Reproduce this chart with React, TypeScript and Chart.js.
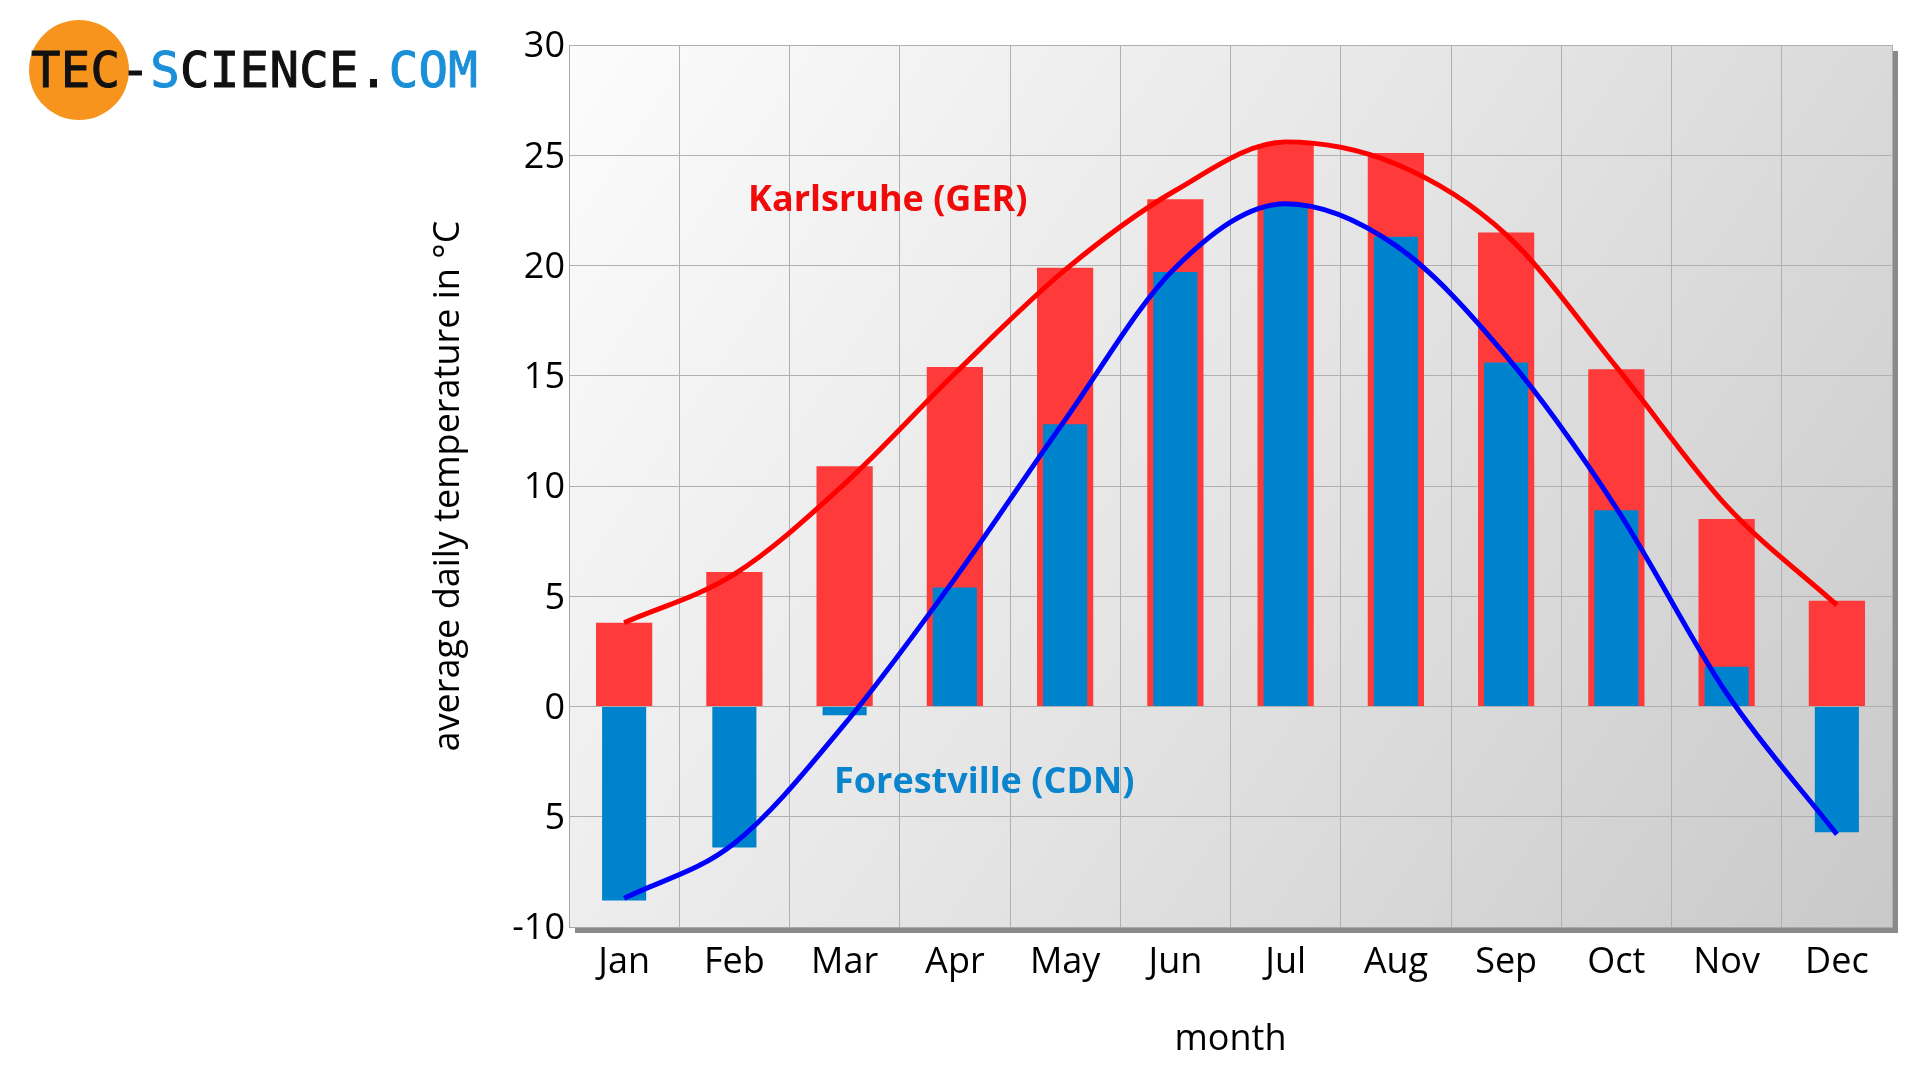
import React, { useEffect, useRef } from "react";
import { Chart, registerables } from "chart.js";

Chart.register(...registerables);

const months = ["Jan", "Feb", "Mar", "Apr", "May", "Jun", "Jul", "Aug", "Sep", "Oct", "Nov", "Dec"];
const karlsruheBars = [3.8, 6.1, 10.9, 15.4, 19.9, 23.0, 25.5, 25.1, 21.5, 15.3, 8.5, 4.8];
const forestvilleBars = [-8.8, -6.4, -0.4, 5.4, 12.8, 19.7, 22.7, 21.3, 15.6, 8.9, 1.8, -5.7];
const karlsruheCurve = [3.8, 6.0, 10.1, 15.1, 19.8, 23.4, 25.6, 24.6, 21.4, 15.4, 9.1, 4.6];
const forestvilleCurve = [-8.7, -6.2, -0.8, 5.8, 13.0, 19.9, 22.8, 20.9, 15.9, 9.0, 0.6, -5.8];
const yTickValues = [-10, -5, 0, 5, 10, 15, 20, 25, 30];
const yTickLabels = ["-10", "5", "0", "5", "10", "15", "20", "25", "30"];

const FONT = '"Open Sans", "DejaVu Sans", sans-serif';

const plotBackground = {
  id: "plotBackground",
  beforeDraw(chart: any) {
    const { ctx, chartArea } = chart;
    const { left, top, right, bottom } = chartArea;
    ctx.save();
    ctx.fillStyle = "#8a8a8a";
    ctx.fillRect(left + 6, top + 6, right - left, bottom - top);
    const g = ctx.createLinearGradient(left, top, right, bottom);
    g.addColorStop(0, "#fcfcfc");
    g.addColorStop(0.5, "#e4e4e4");
    g.addColorStop(1, "#c9c9c9");
    ctx.fillStyle = g;
    ctx.fillRect(left, top, right - left, bottom - top);
    ctx.restore();
  },
};

export default function App() {
  const canvasRef = useRef<HTMLCanvasElement | null>(null);

  useEffect(() => {
    const canvas = canvasRef.current;
    if (!canvas) return;
    const chart = new Chart(canvas, {
      type: "bar",
      data: {
        labels: months,
        datasets: [
          {
            type: "line",
            label: "Karlsruhe curve",
            data: karlsruheCurve,
            borderColor: "#ff0000",
            borderWidth: 5,
            pointRadius: 0,
            cubicInterpolationMode: "monotone",
            fill: false,
            order: 0,
          } as any,
          {
            type: "line",
            label: "Forestville curve",
            data: forestvilleCurve,
            borderColor: "#0000ff",
            borderWidth: 5,
            pointRadius: 0,
            cubicInterpolationMode: "monotone",
            fill: false,
            order: 0,
          } as any,
          {
            type: "bar",
            label: "Forestville (CDN)",
            data: forestvilleBars,
            backgroundColor: "#0083cd",
            barPercentage: 0.4,
            categoryPercentage: 1,
            grouped: false,
            order: 1,
          } as any,
          {
            type: "bar",
            label: "Karlsruhe (GER)",
            data: karlsruheBars,
            backgroundColor: "#ff3a3a",
            barPercentage: 0.51,
            categoryPercentage: 1,
            grouped: false,
            order: 2,
          } as any,
        ],
      },
      options: {
        responsive: false,
        devicePixelRatio: 1,
        animation: false,
        layout: { padding: { left: 427, top: 45, right: 28, bottom: 19 } },
        plugins: { legend: { display: false }, tooltip: { enabled: false }, title: { display: false } },
        scales: {
          x: {
            offset: true,
            grid: { color: "#b0b0b0", lineWidth: 1, drawTicks: false, offset: true },
            border: { display: true, color: "#a8a8a8" },
            ticks: { font: { family: FONT, size: 36 }, color: "#000", padding: 14 },
            title: { display: true, text: "month", font: { family: FONT, size: 36 }, color: "#000", padding: 0 },
            afterFit: (s: any) => {
              s.height = 134;
            },
          },
          y: {
            min: -10,
            max: 30,
            afterBuildTicks: (s: any) => {
              s.ticks = yTickValues.map((v) => ({ value: v }));
            },
            grid: { color: "#b0b0b0", lineWidth: 1, drawTicks: false },
            border: { display: true, color: "#a8a8a8" },
            ticks: {
              font: { family: FONT, size: 36 },
              color: "#000",
              padding: 4,
              labelOffset: 2,
              callback: (v: any) => {
                const i = yTickValues.indexOf(Number(v));
                return i >= 0 ? yTickLabels[i] : "";
              },
            },
            title: {
              display: true,
              text: "average daily temperature in °C",
              font: { family: FONT, size: 36 },
              color: "#000",
              padding: 0,
            },
            afterFit: (s: any) => {
              s.width = 142;
            },
          },
        },
      },
      plugins: [plotBackground],
    });
    return () => chart.destroy();
  }, []);

  return (
    <div style={{ position: "absolute", left: 0, top: 0, width: 1920, height: 1080, background: "#fff", overflow: "hidden" }}>
      <canvas ref={canvasRef} width={1920} height={1080} style={{ position: "absolute", left: 0, top: 0, width: 1920, height: 1080 }} />
      <div
        style={{
          position: "absolute",
          left: 29,
          top: 20,
          width: 100,
          height: 100,
          borderRadius: "50%",
          background: "#f7941d",
        }}
      />
      <div
        style={{
          position: "absolute",
          left: 31,
          top: 46,
          fontFamily: '"DejaVu Sans Mono", monospace',
          fontSize: 49,
          lineHeight: 1,
          letterSpacing: 0.3,
          whiteSpace: "nowrap",
          color: "#111",
          WebkitTextStroke: "1px currentColor",
        }}
      >
        <span>TEC-</span>
        <span style={{ color: "#1b8fd8" }}>S</span>
        <span>CIENCE.</span>
        <span style={{ color: "#1b8fd8" }}>COM</span>
      </div>
      <div
        style={{
          position: "absolute",
          left: 748,
          top: 180,
          fontFamily: FONT,
          fontWeight: 700,
          fontSize: 36,
          lineHeight: 1,
          whiteSpace: "nowrap",
          color: "#f00a0a",
        }}
      >
        Karlsruhe (GER)
      </div>
      <div
        style={{
          position: "absolute",
          left: 834,
          top: 762,
          fontFamily: FONT,
          fontWeight: 700,
          fontSize: 36,
          lineHeight: 1,
          whiteSpace: "nowrap",
          color: "#0a84cc",
        }}
      >
        Forestville (CDN)
      </div>
    </div>
  );
}
